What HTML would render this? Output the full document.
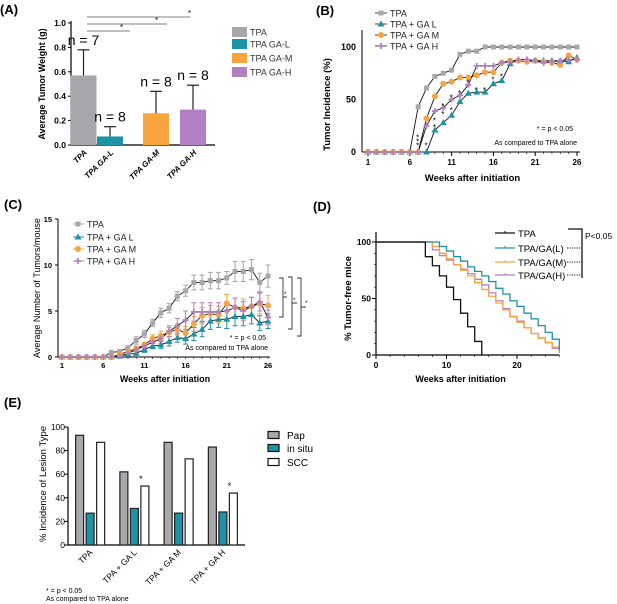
<!DOCTYPE html>
<html><head><meta charset="utf-8">
<style>
html,body{margin:0;padding:0;background:#fff;}
svg{display:block;font-family:"Liberation Sans",Arial,sans-serif;}
</style></head>
<body>
<svg id="fig" width="617" height="604" viewBox="0 0 617 604" xmlns="http://www.w3.org/2000/svg">
<g id="pA"></g>
<g id="pB"></g>
<g id="pC"></g>
<g id="pD"></g>
<g id="pE"></g>
</svg>
<script>
// ---------- Panel A data ----------
const aCats = ["TPA","TPA GA-L","TPA GA-M","TPA GA-H"];
const aVals = [0.57,0.07,0.26,0.29];
const aErr = [0.21,0.08,0.18,0.20];
const aN = ["n = 7","n = 8","n = 8","n = 8"];
const aTicks = [0,0.2,0.4,0.6,0.8,1.0];
// ---------- Panel B data ----------
const weeks = [1,2,3,4,5,6,7,8,9,10,11,12,13,14,15,16,17,18,19,20,21,22,23,24,25,26];
const bTPA = [0,0,0,0,0,0,43,61,72,75,78,93,96,96,100,100,100,100,100,100,100,100,100,100,100,100];
const bL = [0,0,0,0,0,0,0,0,21,28,35,48,56,57,57,65,68,84,88,88,87,87,87,87,86,90];
const bM = [0,0,0,0,0,0,0,32,53,65,67,71,71,73,76,76,85,87,87,86,87,86,85,83,92,88];
const bH = [0,0,0,0,0,0,0,25,39,42,50,54,64,82,82,82,85,86,88,88,87,85,86,87,88,88];
const bTicksX = [1,6,11,16,21,26];
const bTicksY = [0,50,100];
// ---------- Panel C data ----------
const cTPA = [0,0,0,0,0,0,0.5,0.6,1.0,1.8,2.5,3.7,4.8,5.3,6.6,7.2,8.1,8.1,8.3,8.3,8.6,9.3,9.3,9.5,8.1,8.8];
const cTPAerr = [0,0,0,0,0,0,0.1,0.2,0.2,0.4,0.4,0.4,0.5,0.5,0.5,0.6,0.8,0.8,0.9,0.9,0.7,1.1,1.1,1.1,1.0,1.2];
const cL = [0,0,0,0,0,0,0,0.1,0.3,0.4,0.8,1.2,1.3,1.7,2.1,2.0,2.5,3.0,3.9,4.1,4.1,4.4,4.4,4.6,3.7,3.9];
const cLerr = [0,0,0,0,0,0,0,0.1,0.1,0.2,0.3,0.3,0.4,0.5,0.5,0.6,0.7,0.8,0.9,0.9,1.0,1.0,1.0,1.0,0.8,0.8];
const cM = [0,0,0,0,0,0,0,0.3,0.6,0.9,1.3,2.0,2.3,2.7,3.0,2.6,3.6,4.5,4.7,4.6,5.8,5.4,5.3,5.5,5.8,5.6];
const cMerr = [0,0,0,0,0,0,0,0.1,0.2,0.3,0.3,0.4,0.5,0.5,0.6,0.7,0.8,0.9,0.9,0.9,1.0,1.0,1.0,1.0,1.1,1.1];
const cH = [0,0,0,0,0,0,0,0.1,0.4,0.8,1.2,1.6,2.0,2.8,3.4,4.0,4.9,4.9,4.9,4.9,5.0,5.4,5.0,5.5,6.0,4.3];
const cHerr = [0,0,0,0,0,0,0,0.1,0.2,0.2,0.3,0.4,0.5,0.6,0.8,1.0,1.0,1.0,1.0,1.0,1.0,1.0,1.0,1.0,1.0,0.8];
const cTicksY = [0,5,10,15];
// ---------- Panel D data ----------
const dWeeks = [0,7,8,9,10,11,12,13,14,15,16,17,18,19,20,21,22,23,24,25,26];
const dTPA = [100,87,79,70,60,49,37,25,12,0,0,0,0,0,0,0,0,0,0,0,0];
const dL = [100,100,100,96,92,87,83,78,74,70,65,59,54,48,43,37,32,26,20,14,4];
const dM = [100,100,96,90,85,80,75,70,64,58,52,46,40,34,29,24,19,15,11,7,3];
const dH = [100,100,93,88,84,80,76,72,67,62,55,48,41,34,30,24,19,15,11,6,2];
const dTicksX = [0,10,20];
const dTicksY = [0,50,100];
// ---------- Panel E data ----------
const eCats = ["TPA","TPA + GA L","TPA + GA M","TPA + GA H"];
const ePap = [93,62,87,83];
const eSitu = [27,31,27,28];
const eSCC = [87,50,73,44];
const eTicks = [0,20,40,60,80,100];

const NS="http://www.w3.org/2000/svg";
function mk(parent,tag,attrs,text){const e=document.createElementNS(NS,tag);for(const k in attrs)e.setAttribute(k,attrs[k]);if(text!==undefined)e.textContent=text;parent.appendChild(e);return e;}
const GRAY="#a7a7ab",TEAL="#1d93a6",ORANGE="#f8a33e",PURPLE="#b27fc2";

// ===== Panel A =====
(function(){
const g=document.getElementById('pA');
const t=mk(g,'text',{x:0,y:14,'font-size':13,'font-weight':'bold'},'(A)');


const x0=71,x1=215,y0=145,y1=23;
const ys=v=>y0-(v/1.0)*(y0-y1);
const bw=26, centers=[83.5,110,156,193];
const cols=[GRAY,TEAL,ORANGE,PURPLE];
mk(g,'line',{x1:x0,y1:y1-2,x2:x0,y2:y0,stroke:'#000','stroke-width':1.2});
mk(g,'line',{x1:x0,y1:y0,x2:x1,y2:y0,stroke:'#000','stroke-width':1.2});
aTicks.forEach(v=>{mk(g,'line',{x1:x0-3,y1:ys(v),x2:x0,y2:ys(v),stroke:'#000'});
 const tl=mk(g,'text',{x:x0-5,y:ys(v)+3,'font-size':8.5,'font-weight':'bold','text-anchor':'end'},v.toFixed(1));
 
 });
const yt=mk(g,'text',{transform:`translate(45,${(y0+y1)/2}) rotate(-90)`,'font-size':9,'font-weight':'bold','text-anchor':'middle'},'Average Tumor Weight (g)');


aVals.forEach((v,i)=>{
 const cx=centers[i];
 const top=ys(v+aErr[i]);
 mk(g,'line',{x1:cx,y1:ys(v),x2:cx,y2:top,stroke:'#222','stroke-width':1.2});
 mk(g,'line',{x1:cx-6,y1:top,x2:cx+6,y2:top,stroke:'#222','stroke-width':1.2});
 const r=mk(g,'rect',{x:cx-bw/2,y:ys(v),width:bw,height:y0-ys(v),fill:cols[i]});
 
 
 const n=mk(g,'text',{x:cx,y:top-5,'font-size':14,'text-anchor':'middle'},aN[i]);
 
 
 const xl=mk(g,'text',{transform:`translate(${cx+4},${y0+8}) rotate(-45)`,'font-size':8,'font-weight':'bold','font-style':'italic','text-anchor':'end'},aCats[i]);
 
 
 const sy=[0,31,24,17][i];
 if(i>0){mk(g,'line',{x1:87,y1:sy,x2:[0,130,167,190][i],y2:sy,stroke:'#555','stroke-width':0.8});
  mk(g,'text',{x:[0,120,155,188][i],y:sy-1,'font-size':8},'*');}
 const ly=[32,44,58,72][i];
 const sw=mk(g,'rect',{x:232,y:ly-5,width:15,height:10,fill:cols[i]});
 
 
 const lt=mk(g,'text',{x:250,y:ly+3.5,'font-size':9,fill:'#333'},aCats[i]);
 
 
});
})();

function marker(g,shape,x,y,col){
 if(shape==='sq') return mk(g,'rect',{x:x-2.5,y:y-2.5,width:5,height:5,fill:col});
 if(shape==='tri') return mk(g,'polygon',{points:`${x},${y-3.5} ${x-3.5},${y+2.5} ${x+3.5},${y+2.5}`,fill:col});
 if(shape==='ci') return mk(g,'circle',{cx:x,cy:y,r:3,fill:col});
 const p=mk(g,'path',{d:`M${x-3},${y}H${x+3}M${x},${y-3}V${y+3}`,stroke:col,'stroke-width':1.8});return p;
}

// ===== Panel B =====
(function(){
const g=document.getElementById('pB');
const t=mk(g,'text',{x:316,y:15,'font-size':13,'font-weight':'bold'},'(B)');


const x0=368,x1=577,y0=152,y1=47;
const xs=w=>x0+(w-1)/25*(x1-x0);
const ys=v=>y0-v/100*(y0-y1);
mk(g,'line',{x1:x0-6,y1:30,x2:x0-6,y2:y0,stroke:'#000','stroke-width':1});
mk(g,'line',{x1:x0-6,y1:y0,x2:x1+3,y2:y0,stroke:'#000','stroke-width':1});
weeks.forEach(w=>mk(g,'line',{x1:xs(w),y1:y0,x2:xs(w),y2:y0+2,stroke:'#000','stroke-width':0.6}));
bTicksX.forEach(w=>{mk(g,'line',{x1:xs(w),y1:y0,x2:xs(w),y2:y0+4,stroke:'#000'});
 const tl=mk(g,'text',{x:xs(w),y:y0+13,'font-size':8,'font-weight':'bold','text-anchor':'middle'},w);
 
 });
bTicksY.forEach(v=>{const tl=mk(g,'text',{x:x0-12,y:ys(v)+3,'font-size':9,'font-weight':'bold','text-anchor':'end'},v);
 
 });
const yt=mk(g,'text',{transform:`translate(330,${(y0+y1)/2+5}) rotate(-90)`,'font-size':9.5,'font-weight':'bold','text-anchor':'middle'},'Tumor Incidence  (%)');


const xt=mk(g,'text',{x:(x0+x1)/2,y:181,'font-size':9.5,'font-weight':'bold','text-anchor':'middle'},'Weeks after initiation');


const series=[[bTPA,'sq',GRAY,'TPA'],[bL,'tri',TEAL,'TPA + GA L'],[bM,'ci',ORANGE,'TPA + GA M'],[bH,'pl',PURPLE,'TPA + GA H']];
series.forEach((s,si)=>{
 const pl=mk(g,'polyline',{points:s[0].map((v,i)=>xs(weeks[i])+','+ys(v)).join(' '),fill:'none',stroke:'#111','stroke-width':0.9});
 
 
});
series.forEach((s,si)=>{
 s[0].forEach((v,i)=>{const m=marker(g,s[1],xs(weeks[i]),ys(v),s[2]);
  
  });
 const ly=[13,24,35,46][si];
 mk(g,'line',{x1:375,y1:ly,x2:387,y2:ly,stroke:'#444'});
 marker(g,s[1],381,ly,s[2]);
 const lt=mk(g,'text',{x:390,y:ly+3.5,'font-size':9,fill:'#222'},s[3]);
 
 
});
[[7,14],[7,10],[7,6],[8,6],[9,30],[9,24],[10,36],[10,44],[11,52],[11,40],[12,56],[13,66],[14,59],[15,59],[16,69],[17,72]].forEach(p=>mk(g,'text',{x:xs(p[0])-2,y:ys(p[1])+3,'font-size':8},'*'));
mk(g,'text',{x:573,y:131,'font-size':7,'text-anchor':'end'},'* = p < 0.05');
mk(g,'text',{x:577,y:145,'font-size':7,'text-anchor':'end'},'As compared to TPA alone');
})();

// ===== Panel C =====
(function(){
const g=document.getElementById('pC');
const t=mk(g,'text',{x:4,y:209,'font-size':13,'font-weight':'bold'},'(C)');


const x0=62,x1=268,y0=357,y1=219;
const xs=w=>x0+(w-1)/25*(x1-x0);
const ys=v=>y0-v/15*(y0-y1);
mk(g,'line',{x1:x0-4,y1:y1,x2:x0-4,y2:y0,stroke:'#000'});
mk(g,'line',{x1:x0-4,y1:y0,x2:x1+2,y2:y0,stroke:'#000'});
weeks.forEach(w=>mk(g,'line',{x1:xs(w),y1:y0,x2:xs(w),y2:y0+2,stroke:'#000','stroke-width':0.6}));
bTicksX.forEach(w=>{const tl=mk(g,'text',{x:xs(w),y:368,'font-size':7.5,'font-weight':'bold','text-anchor':'middle'},w);
 
 });
cTicksY.forEach(v=>{mk(g,'line',{x1:x0-7,y1:ys(v),x2:x0-4,y2:ys(v),stroke:'#000'});
 const tl=mk(g,'text',{x:x0-10,y:ys(v)+3,'font-size':7.5,'font-weight':'bold','text-anchor':'end'},v);
 
 });
const yt=mk(g,'text',{transform:`translate(40,${(y0+y1)/2}) rotate(-90)`,'font-size':9,'text-anchor':'middle'},'Average Number of Tumors/mouse');


const xt=mk(g,'text',{x:(x0+x1)/2,y:382,'font-size':9,'font-weight':'bold','text-anchor':'middle'},'Weeks after initiation');


const series=[[cTPA,cTPAerr,'sq',GRAY,'TPA'],[cL,cLerr,'tri',TEAL,'TPA + GA L'],[cM,cMerr,'ci',ORANGE,'TPA + GA M'],[cH,cHerr,'pl',PURPLE,'TPA + GA H']];
series.forEach((s,si)=>{
 s[0].forEach((v,i)=>{if(s[1][i]>0){const x=xs(weeks[i]);
  mk(g,'path',{d:`M${x},${ys(v-s[1][i])}V${ys(v+s[1][i])}M${x-2.5},${ys(v-s[1][i])}h5M${x-2.5},${ys(v+s[1][i])}h5`,stroke:s[3],'stroke-width':1,fill:'none'});}});
});
series.forEach((s,si)=>{
 const pl=mk(g,'polyline',{points:s[0].map((v,i)=>xs(weeks[i])+','+ys(v)).join(' '),fill:'none',stroke:'#111','stroke-width':0.9});
 
 
});
series.forEach((s,si)=>{
 s[0].forEach((v,i)=>{const m=marker(g,s[2],xs(weeks[i]),ys(v),s[3]);
  
  });
 const ly=[224,237,249,261][si];
 mk(g,'line',{x1:73,y1:ly,x2:84,y2:ly,stroke:s[3]});
 marker(g,s[2],78,ly,s[3]);
 const lt=mk(g,'text',{x:87,y:ly+3.5,'font-size':9,fill:'#222'},s[4]);
 
 
});
mk(g,'path',{d:'M279,278h4v39h-4M283,297h4M288,277h4v52h-4M292,303h5M297,278h4v58h-4M301,307h5',stroke:'#333',fill:'none','stroke-width':0.9});
mk(g,'text',{x:284,y:296,'font-size':6},'*');mk(g,'text',{x:293,y:302,'font-size':6},'*');mk(g,'text',{x:305,y:305,'font-size':6},'*');
mk(g,'text',{x:266,y:340,'font-size':7,'text-anchor':'end'},'* = p < 0.05');
mk(g,'text',{x:268,y:350,'font-size':7,'text-anchor':'end'},'As compared to TPA alone');
})();

// ===== Panel D =====
(function(){
const g=document.getElementById('pD');
const t=mk(g,'text',{x:313,y:211,'font-size':13,'font-weight':'bold'},'(D)');


const x0=376,y0=355,y1=242;
const xs=w=>x0+w*7.05;
const ys=v=>y0-v/100*(y0-y1);
mk(g,'line',{x1:x0,y1:232,x2:x0,y2:y0,stroke:'#000','stroke-width':1.2});
mk(g,'line',{x1:x0,y1:y0,x2:xs(26),y2:y0,stroke:'#000','stroke-width':1.2});
for(let w=0;w<=26;w+=2)mk(g,'line',{x1:xs(w),y1:y0,x2:xs(w),y2:y0+2,stroke:'#000','stroke-width':0.6});
for(let v=0;v<=100;v+=10)mk(g,'line',{x1:x0-2,y1:ys(v),x2:x0,y2:ys(v),stroke:'#000','stroke-width':0.6});
dTicksX.forEach(w=>{mk(g,'line',{x1:xs(w),y1:y0,x2:xs(w),y2:y0+4,stroke:'#000'});
 const tl=mk(g,'text',{x:xs(w),y:368,'font-size':8.5,'font-weight':'bold','text-anchor':'middle'},w);
 
 });
dTicksY.forEach(v=>{mk(g,'line',{x1:x0-4,y1:ys(v),x2:x0,y2:ys(v),stroke:'#000'});
 const tl=mk(g,'text',{x:x0-5,y:ys(v)+3,'font-size':8.5,'font-weight':'bold','text-anchor':'end'},v);
 
 });
const yt=mk(g,'text',{transform:`translate(351,${(y0+y1)/2}) rotate(-90)`,'font-size':9.5,'font-weight':'bold','text-anchor':'middle'},'% Tumor-free mice');


const xt=mk(g,'text',{x:xs(12),y:382,'font-size':9,'font-weight':'bold','text-anchor':'middle'},'Weeks after initiation');


const series=[[dH,PURPLE,'TPA/GA(H)'],[dM,ORANGE,'TPA/GA(M)'],[dL,TEAL,'TPA/GA(L)'],[dTPA,'#111','TPA']];
series.forEach((s,si)=>{
 let d=`M${xs(0)},${ys(s[0][0])}`;
 for(let i=1;i<dWeeks.length;i++){d+=`H${xs(dWeeks[i])}V${ys(s[0][i])}`;if(s[2]==='TPA'&&s[0][i]===0)break;}
 if(s[2]!=='TPA')d+=`H${xs(26)}`;
 const p=mk(g,'path',{d:d,fill:'none',stroke:s[1],'stroke-width':1.3});
 
 
});
const leg=[['#111','TPA'],[TEAL,'TPA/GA(L)'],[ORANGE,'TPA/GA(M)'],[PURPLE,'TPA/GA(H)']];
leg.forEach((l,i)=>{const ly=[233,248,262,275][i];
 mk(g,'line',{x1:495,y1:ly,x2:515,y2:ly,stroke:l[0],'stroke-width':1.3});
 mk(g,'line',{x1:505,y1:ly-2,x2:505,y2:ly,stroke:l[0]});
 const lt=mk(g,'text',{x:518,y:ly+4,'font-size':9.5},l[1]);
 
 
 if(i>0)mk(g,'line',{x1:567,y1:ly,x2:581,y2:ly,stroke:'#111','stroke-dasharray':'1.2,1.2'});});
mk(g,'path',{d:'M568,229H582V278',stroke:'#111',fill:'none','stroke-width':1.3});
mk(g,'text',{x:585,y:239,'font-size':8.5},'P<0.05');
})();

// ===== Panel E =====
(function(){
const g=document.getElementById('pE');
const t=mk(g,'text',{x:4,y:407,'font-size':13,'font-weight':'bold'},'(E)');


const x0=68,x1=245,y0=545,y1=427;
const ys=v=>y0-v/100*(y0-y1);
const band=(x1-x0)/eCats.length;
mk(g,'line',{x1:x0,y1:y1,x2:x0,y2:y0,stroke:'#000','stroke-width':1.2});
mk(g,'line',{x1:x0,y1:y0,x2:x1,y2:y0,stroke:'#000','stroke-width':1.2});
eTicks.forEach(v=>{mk(g,'line',{x1:x0-4,y1:ys(v),x2:x0,y2:ys(v),stroke:'#000'});
 const tl=mk(g,'text',{x:x0-3,y:ys(v)+3,'font-size':8.5,'text-anchor':'end'},v);
 
 });
const yt=mk(g,'text',{transform:`translate(46,${(y0+y1)/2-2}) rotate(-90)`,'font-size':9.5,'text-anchor':'middle'},'% Incidence of Lesion Type');


const sers=[[ePap,'#a9a9ad'],[eSitu,TEAL],[eSCC,'#fff']];
eCats.forEach((c,i)=>{
 const cx=x0+band*(i+0.5);
 sers.forEach((s,k)=>{
  const r=mk(g,'rect',{x:cx-14.5+k*10.5,y:ys(s[0][i]),width:8,height:y0-ys(s[0][i]),fill:s[1],stroke:'#222','stroke-width':1.2});
  
  });
 const xl=mk(g,'text',{transform:`translate(${cx+3},${y0+8}) rotate(-45)`,'font-size':8.5,'text-anchor':'end'},c);
 
 
});
[1,3].forEach(i=>{const cx=x0+band*(i+0.5)+6.5;mk(g,'text',{x:cx,y:ys(eSCC[i])-4,'font-size':9,'text-anchor':'middle'},'*');});
[['#a9a9ad','Pap'],[TEAL,'in situ'],['#fff','SCC']].forEach((l,i)=>{const ly=[435,448,462][i];
 const sw=mk(g,'rect',{x:268,y:ly-3.5,width:11,height:7,fill:l[0],stroke:'#111','stroke-width':1.2});
 
 
 const lt=mk(g,'text',{x:287,y:ly+4,'font-size':10},l[1]);
 
 });
mk(g,'text',{x:46,y:593,'font-size':7},'* = p < 0.05');
mk(g,'text',{x:46,y:601,'font-size':7},'As compared to TPA alone');
})();
</script>
</body></html>
